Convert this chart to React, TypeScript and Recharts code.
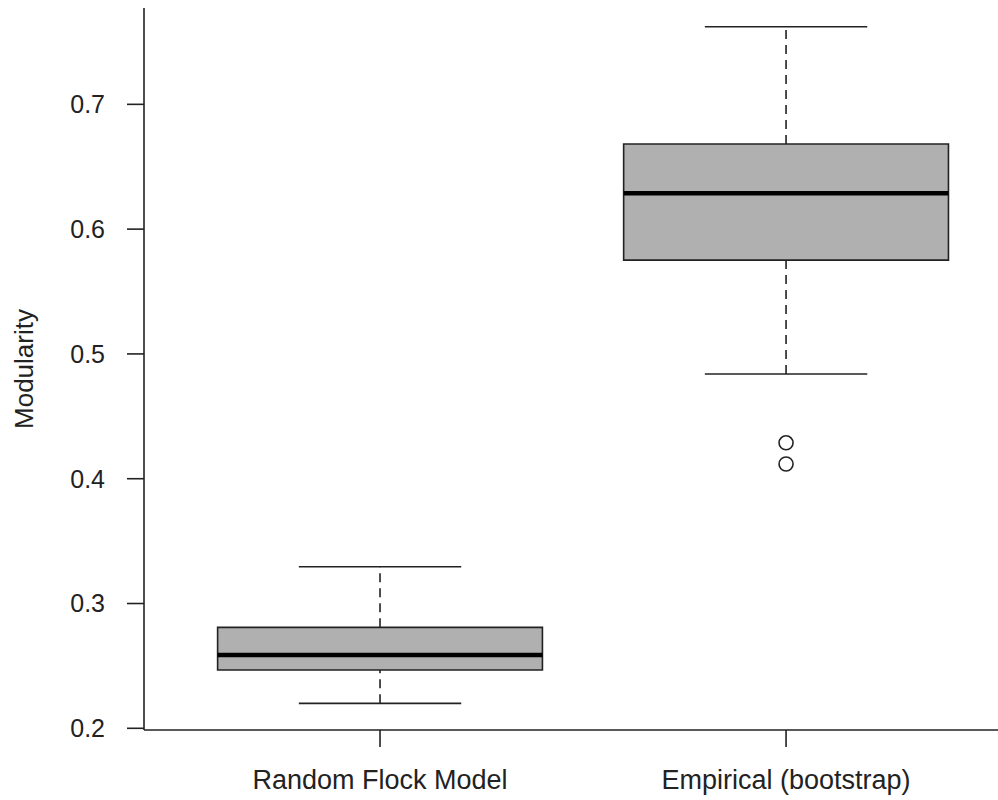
import React from 'react';
import {
  ComposedChart,
  XAxis,
  YAxis,
  ReferenceArea,
  ReferenceLine,
  Scatter,
} from 'recharts';

const categories = ['Random Flock Model', 'Empirical (bootstrap)'];
const positions = [1, 2];
const lowerWhisker = [0.22, 0.4839];
const q1 = [0.2467, 0.5752];
const median = [0.2587, 0.6287];
const q3 = [0.2809, 0.6682];
const upperWhisker = [0.3295, 0.7622];
const outlierPositions = [2, 2];
const outlierValues = [0.4288, 0.4118];
const yTicks = [0.2, 0.3, 0.4, 0.5, 0.6, 0.7];
const yLabel = 'Modularity';

const BOX_HALF = 0.4;
const CAP_HALF = 0.2;
const FONT = '"Liberation Sans", Arial, sans-serif';
const INK = '#222222';

const outliers = outlierPositions.map((x, i) => ({ x, y: outlierValues[i] }));
const baseData = positions.map((x, i) => ({ x, y: median[i] }));

const OutlierShape = (props: any) => {
  const { cx, cy } = props;
  if (cx == null || cy == null) return null;
  return <circle cx={cx} cy={cy} r={7} fill="none" stroke={INK} strokeWidth={1.6} />;
};

export default function App() {
  return (
    <div style={{ position: 'absolute', left: 0, top: 0, background: '#fff' }}>
      <ComposedChart
        width={998}
        height={800}
        data={baseData}
        margin={{ top: 8, right: 0, bottom: 0, left: 0 }}
        style={{ fontFamily: FONT }}
      >
        <XAxis
          dataKey="x"
          type="number"
          domain={[0.4187, 2.522]}
          allowDataOverflow
          ticks={positions}
          tickFormatter={(v: number) => categories[positions.indexOf(v)] ?? ''}
          height={70}
          tickSize={17}
          tickMargin={23}
          stroke={INK}
          axisLine={{ stroke: INK, strokeWidth: 1.6 }}
          tickLine={{ stroke: INK, strokeWidth: 1.6 }}
          tick={{ fill: INK, fontSize: 27, fontFamily: FONT }}
        />
        <YAxis
          type="number"
          domain={[0.19864, 0.7772]}
          allowDataOverflow
          ticks={yTicks}
          tickFormatter={(v: number) => v.toFixed(1)}
          width={144}
          tickSize={17}
          tickMargin={22}
          axisLine={{ stroke: INK, strokeWidth: 1.6 }}
          tickLine={{ stroke: INK, strokeWidth: 1.6 }}
          tick={{ fill: INK, fontSize: 25, fontFamily: FONT }}
          label={{
            value: yLabel,
            angle: -90,
            position: 'insideLeft',
            offset: 24,
            style: { textAnchor: 'middle', fill: INK, fontSize: 26, fontFamily: FONT },
          }}
        />
        {positions.map((p, i) => (
          <ReferenceLine
            key={`wu${i}`}
            segment={[{ x: p, y: q3[i] }, { x: p, y: upperWhisker[i] }]}
            stroke={INK}
            strokeWidth={1.6}
            strokeDasharray="9 6"
            ifOverflow="visible"
          />
        ))}
        {positions.map((p, i) => (
          <ReferenceLine
            key={`wl${i}`}
            segment={[{ x: p, y: lowerWhisker[i] }, { x: p, y: q1[i] }]}
            stroke={INK}
            strokeWidth={1.6}
            strokeDasharray="9 6"
            ifOverflow="visible"
          />
        ))}
        {positions.map((p, i) => (
          <ReferenceLine
            key={`cu${i}`}
            segment={[{ x: p - CAP_HALF, y: upperWhisker[i] }, { x: p + CAP_HALF, y: upperWhisker[i] }]}
            stroke={INK}
            strokeWidth={1.6}
            ifOverflow="visible"
          />
        ))}
        {positions.map((p, i) => (
          <ReferenceLine
            key={`cl${i}`}
            segment={[{ x: p - CAP_HALF, y: lowerWhisker[i] }, { x: p + CAP_HALF, y: lowerWhisker[i] }]}
            stroke={INK}
            strokeWidth={1.6}
            ifOverflow="visible"
          />
        ))}
        {positions.map((p, i) => (
          <ReferenceArea
            key={`b${i}`}
            x1={p - BOX_HALF}
            x2={p + BOX_HALF}
            y1={q1[i]}
            y2={q3[i]}
            fill="#b0b0b0"
            fillOpacity={1}
            stroke={INK}
            strokeWidth={1.6}
            ifOverflow="visible"
          />
        ))}
        {positions.map((p, i) => (
          <ReferenceLine
            key={`m${i}`}
            segment={[{ x: p - BOX_HALF, y: median[i] }, { x: p + BOX_HALF, y: median[i] }]}
            stroke="#000"
            strokeWidth={4.5}
            ifOverflow="visible"
          />
        ))}
        <Scatter
          data={outliers}
          dataKey="y"
          shape={OutlierShape}
          isAnimationActive={false}
        />
      </ComposedChart>
    </div>
  );
}
